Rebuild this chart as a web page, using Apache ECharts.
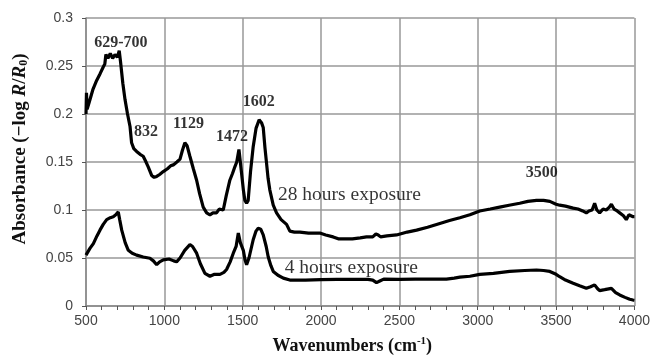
<!DOCTYPE html>
<html>
<head>
<meta charset="utf-8">
<script src="https://cdn.jsdelivr.net/npm/echarts@6/dist/echarts.min.js"></script>
<style>html,body{margin:0;padding:0;background:#fff}#c{width:653px;height:361px}</style>
</head>
<body>
<div id="c"></div>
<script>
var xTicks = [500, 1000, 1500, 2000, 2500, 3000, 3500, 4000];
var yTicks = [0, 0.05, 0.1, 0.15, 0.2, 0.25, 0.3];

var series28h = [[500,0.200],[503,0.222],[507,0.205],[520,0.212],[545,0.226],[568,0.235],[590,0.242],[610,0.249],[620,0.252],[627,0.262],[640,0.258],[655,0.263],[670,0.258],[685,0.262],[700,0.259],[712,0.266],[720,0.255],[735,0.232],[749,0.215],[765,0.200],[781,0.187],[791,0.170],[805,0.164],[823,0.161],[845,0.158],[865,0.156],[880,0.151],[897,0.145],[919,0.136],[935,0.134],[951,0.135],[970,0.137],[993,0.140],[1020,0.143],[1040,0.146],[1057,0.147],[1080,0.150],[1100,0.153],[1115,0.162],[1131,0.170],[1145,0.167],[1163,0.156],[1185,0.143],[1206,0.131],[1225,0.117],[1248,0.103],[1270,0.097],[1291,0.095],[1310,0.097],[1333,0.097],[1350,0.101],[1376,0.100],[1395,0.115],[1418,0.131],[1435,0.138],[1450,0.145],[1462,0.150],[1476,0.163],[1485,0.150],[1493,0.138],[1505,0.120],[1514,0.110],[1525,0.107],[1535,0.110],[1550,0.140],[1567,0.166],[1585,0.185],[1605,0.194],[1620,0.191],[1631,0.186],[1642,0.165],[1652,0.149],[1662,0.133],[1673,0.121],[1695,0.105],[1716,0.097],[1745,0.090],[1780,0.085],[1801,0.078],[1830,0.077],[1865,0.077],[1920,0.076],[1971,0.076],[1992,0.076],[2030,0.074],[2077,0.072],[2110,0.070],[2152,0.070],[2200,0.070],[2250,0.071],[2290,0.072],[2330,0.072],[2350,0.075],[2365,0.074],[2380,0.072],[2420,0.073],[2482,0.074],[2550,0.077],[2610,0.079],[2680,0.082],[2758,0.086],[2820,0.089],[2886,0.092],[2950,0.095],[3013,0.099],[3080,0.101],[3140,0.103],[3200,0.105],[3268,0.107],[3320,0.109],[3375,0.110],[3420,0.110],[3460,0.109],[3500,0.106],[3523,0.105],[3560,0.104],[3609,0.102],[3640,0.101],[3670,0.099],[3693,0.097],[3710,0.099],[3730,0.100],[3746,0.107],[3760,0.100],[3778,0.097],[3800,0.101],[3820,0.100],[3840,0.103],[3853,0.106],[3870,0.101],[3890,0.099],[3906,0.097],[3930,0.094],[3948,0.090],[3965,0.095],[3991,0.093],[4000,0.093]];

var series4h = [[500,0.053],[504,0.055],[525,0.060],[547,0.065],[570,0.073],[589,0.079],[610,0.085],[632,0.090],[655,0.092],[674,0.093],[690,0.095],[706,0.098],[715,0.090],[728,0.079],[750,0.066],[770,0.058],[795,0.055],[823,0.053],[865,0.051],[908,0.0497],[930,0.047],[951,0.043],[970,0.046],[993,0.048],[1030,0.049],[1060,0.047],[1078,0.046],[1100,0.050],[1130,0.058],[1163,0.064],[1180,0.062],[1206,0.055],[1230,0.044],[1259,0.034],[1291,0.031],[1320,0.033],[1355,0.033],[1380,0.035],[1397,0.038],[1420,0.046],[1440,0.055],[1458,0.062],[1472,0.076],[1485,0.066],[1504,0.058],[1515,0.048],[1525,0.043],[1540,0.050],[1567,0.069],[1585,0.078],[1599,0.081],[1615,0.080],[1631,0.074],[1650,0.062],[1663,0.051],[1680,0.042],[1695,0.036],[1725,0.032],[1759,0.029],[1801,0.027],[1900,0.027],[2000,0.0275],[2100,0.0278],[2200,0.0278],[2300,0.0278],[2330,0.027],[2354,0.0243],[2375,0.026],[2400,0.028],[2500,0.0278],[2600,0.028],[2700,0.028],[2800,0.028],[2850,0.029],[2886,0.030],[2950,0.031],[3013,0.033],[3100,0.034],[3204,0.036],[3300,0.037],[3375,0.0375],[3420,0.037],[3460,0.036],[3500,0.033],[3523,0.0305],[3560,0.027],[3609,0.0236],[3650,0.021],[3693,0.0184],[3720,0.020],[3746,0.022],[3765,0.018],[3778,0.016],[3810,0.017],[3853,0.0184],[3880,0.014],[3906,0.0115],[3940,0.009],[3970,0.007],[3991,0.0062],[4000,0.006]];

var peakLabels = ['629-700', '832', '1129', '1472', '1602', '3500'];
var peakLabelPos = [[723, 0.274], [883, 0.181], [1154, 0.1896], [1431, 0.176], [1603, 0.2125], [3408, 0.1385]];
var seriesLabels = ['28 hours exposure', '4 hours exposure'];
var seriesLabelPos = [[2181, 0.1156], [2193, 0.0396]];

var chart = echarts.init(document.getElementById('c'), null, {renderer: 'canvas'});
var serif = '"Liberation Serif", "DejaVu Serif", serif';
var sans = '"Liberation Sans", Arial, sans-serif';

var textData = [];
peakLabels.forEach(function (t, i) {
  textData.push({value: peakLabelPos[i], name: t, label: {fontWeight: 'bold', fontSize: 16}});
});
seriesLabels.forEach(function (t, i) {
  textData.push({value: seriesLabelPos[i], name: t, label: {fontWeight: 'normal', fontSize: 19.5}});
});

chart.setOption({
  animation: false,
  backgroundColor: '#fff',
  grid: {left: 86, right: 18, top: 18, bottom: 55, show: false},
  xAxis: {
    type: 'value', min: 500, max: 4000, interval: 500,
    axisLine: {show: true, onZero: false, lineStyle: {color: '#888', width: 1.5}},
    axisTick: {show: true, length: 4, lineStyle: {color: '#555', width: 1}},
    minorTick: {show: true, splitNumber: 5, length: 4, lineStyle: {color: '#555', width: 1}},
    axisLabel: {color: '#444', fontFamily: sans, fontSize: 14, margin: 8,
      formatter: function (v) { return String(v); }},
    splitLine: {show: true, lineStyle: {color: '#999', width: 1.5}},
    name: '{b|Wavenumbers (cm}{sup|-1}{b|)}',
    nameLocation: 'middle', nameGap: 30,
    nameTextStyle: {
      padding: [0, 16, 0, 0],
      rich: {
        b: {fontFamily: serif, fontWeight: 'bold', fontSize: 18, color: '#111'},
        sup: {fontFamily: serif, fontWeight: 'bold', fontSize: 11, color: '#111', padding: [0, 0, 10, 0]}
      }
    }
  },
  yAxis: {
    type: 'value', min: 0, max: 0.3, interval: 0.05,
    axisLine: {show: true, onZero: false, lineStyle: {color: '#888', width: 1.5}},
    axisTick: {show: true, length: 4, lineStyle: {color: '#555', width: 1}},
    axisLabel: {color: '#444', fontFamily: sans, fontSize: 14, margin: 13,
      formatter: function (v) { return String(Math.round(v * 100) / 100); }},
    splitLine: {show: true, lineStyle: {color: '#999', width: 1.5}},
    name: '{b|Absorbance (\u2212log }{i|R}{b|/}{i|R}{sub|0}{b|)}',
    nameLocation: 'middle', nameGap: 56, nameRotate: 90,
    nameTextStyle: {
      padding: [0, 0, 0, 26],
      rich: {
        b: {fontFamily: serif, fontWeight: 'bold', fontSize: 19, color: '#111'},
        i: {fontFamily: serif, fontWeight: 'bold', fontStyle: 'italic', fontSize: 19, color: '#111'},
        sub: {fontFamily: serif, fontWeight: 'bold', fontSize: 12, color: '#111', padding: [8, 0, 0, 0]}
      }
    }
  },
  series: [
    {type: 'line', data: series28h, showSymbol: false, symbol: 'none',
      lineStyle: {color: '#000', width: 3.2}, z: 5},
    {type: 'line', data: series4h, showSymbol: false, symbol: 'none',
      lineStyle: {color: '#000', width: 3.2}, z: 5},
    {type: 'scatter', data: textData, symbolSize: 0, silent: true, z: 10,
      label: {show: true, position: 'inside', formatter: '{b}', fontFamily: serif, color: '#000'}}
  ]
});
</script>
</body>
</html>
